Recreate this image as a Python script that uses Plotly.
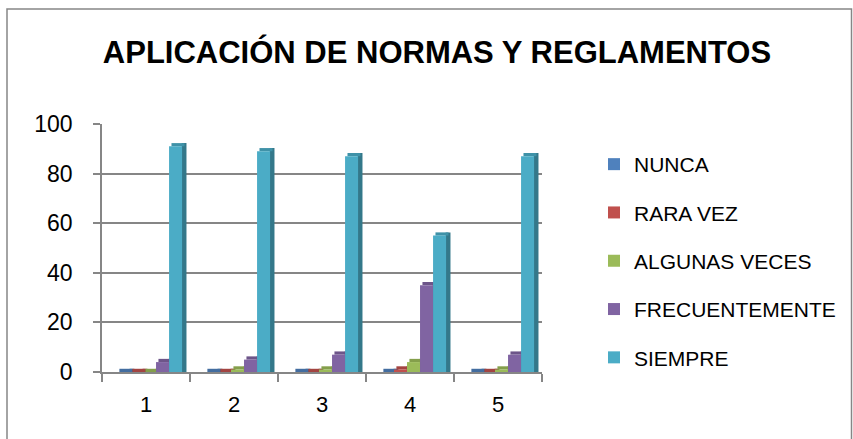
import plotly.graph_objects as go

# ---- data ----
categories = ["1", "2", "3", "4", "5"]
series_names = ["NUNCA", "RARA VEZ", "ALGUNAS VECES", "FRECUENTEMENTE", "SIEMPRE"]
nunca = [0, 0, 0, 0, 0]
rara_vez = [0, 0, 0, 1, 0]
algunas_veces = [0, 1, 1, 4, 1]
frecuentemente = [4, 5, 7, 35, 7]
siempre = [91, 89, 87, 55, 87]
y_ticks = [0, 20, 40, 60, 80, 100]

series_values = [nunca, rara_vez, algunas_veces, frecuentemente, siempre]

# ---- style ----
colors = ["#4F81BD", "#C0504D", "#9BBB59", "#8064A2", "#4BACC6"]
side_colors = ["#375A84", "#873835", "#6C833E", "#594671", "#34788A"]
top_colors = ["#436DA0", "#A34441", "#849F4B", "#6D5589", "#3F92A8"]
bar_w = 0.148
side_w = 0.055
depth = 1.3
start = -0.33
FONT = "Liberation Sans, Arial, sans-serif"

fig = go.Figure()
for i, (name, vals) in enumerate(zip(series_names, series_values)):
    off = start + i * bar_w
    # side face (depth)
    fig.add_trace(go.Bar(
        x=categories, y=[v + depth for v in vals], base=0,
        offset=off + bar_w - 0.005, width=side_w,
        marker=dict(color=side_colors[i], line=dict(width=0)),
        showlegend=False, hoverinfo="skip", legendgroup=name))
    # top face
    fig.add_trace(go.Bar(
        x=categories, y=[depth] * len(vals), base=vals,
        offset=off + side_w * 0.5, width=bar_w,
        marker=dict(color=top_colors[i], line=dict(width=0)),
        showlegend=False, hoverinfo="skip", legendgroup=name))
    # front face
    fig.add_trace(go.Bar(
        x=categories, y=vals, name=name,
        offset=off, width=bar_w,
        marker=dict(color=colors[i], line=dict(width=0)),
        legendgroup=name))

plot_l, plot_r = 102, 542
plot_t, plot_b = 124, 372
W, H = 853, 439
pw = plot_r - plot_l
ph = plot_b - plot_t

def px_x(p):
    return (p - plot_l) / pw

def px_y(p):
    return (plot_b - p) / ph

fig.update_layout(
    width=W, height=H,
    margin=dict(l=plot_l, r=W - plot_r, t=plot_t, b=H - plot_b, pad=0, autoexpand=False),
    paper_bgcolor="white", plot_bgcolor="white",
    barmode="overlay",
    font=dict(family=FONT, color="black"),
    title=dict(text="<b>APLICACIÓN DE NORMAS Y REGLAMENTOS</b>",
               x=437 / W, xanchor="center", y=1 - 52 / H, yanchor="middle",
               font=dict(family=FONT, size=31, color="black")),
    xaxis=dict(type="category", range=[-0.5, 4.5],
               showline=True, linecolor="#868686", linewidth=1.5,
               ticks="outside", tickson="boundaries", ticklen=8,
               tickcolor="#868686", tickwidth=1.5,
               tickfont=dict(size=22, family=FONT), ticklabelstandoff=12,
               showgrid=False, zeroline=False),
    yaxis=dict(range=[0, 100], tickvals=y_ticks,
               showline=True, linecolor="#868686", linewidth=1.5,
               ticks="outside", ticklen=7, tickcolor="#868686", tickwidth=1.5,
               tickfont=dict(size=23, family=FONT), ticklabelstandoff=16,
               showgrid=True, gridcolor="#868686", gridwidth=1.5,
               zeroline=False),
    legend=dict(x=px_x(594), xanchor="left", y=px_y(144), yanchor="top",
                traceorder="grouped", tracegroupgap=18,
                font=dict(size=21, family=FONT),
                bgcolor="rgba(0,0,0,0)"),
    shapes=[dict(type="rect", xref="paper", yref="paper",
                 x0=px_x(7), x1=px_x(851.5), y0=px_y(9), y1=px_y(460),
                 line=dict(color="#868686", width=1.5), fillcolor="rgba(0,0,0,0)",
                 layer="below")],
)

fig.write_html("out.html",
               config={"displayModeBar": False},
               post_script="document.body.style.margin='0';document.body.style.padding='0';")
